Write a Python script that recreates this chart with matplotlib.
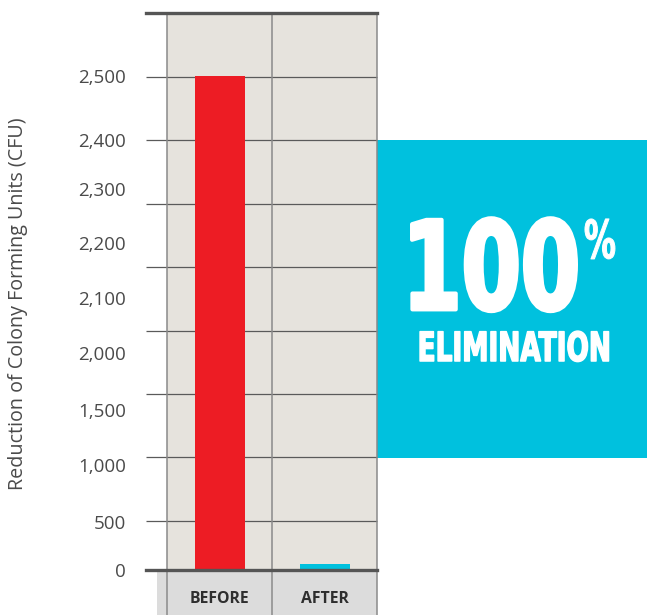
import numpy as np
import matplotlib
matplotlib.use("Agg")
import matplotlib.pyplot as plt
from matplotlib import patheffects
from matplotlib.transforms import Affine2D
from matplotlib.patches import Rectangle

# ---------------- data ----------------
categories = ["BEFORE", "AFTER"]
cfu_values = [2500, 65]
bar_colors = ["#ed1c24", "#00c1de"]
tick_values = [0, 500, 1000, 1500, 2000, 2100, 2200, 2300, 2400, 2500]
tick_labels = ["0", "500", "1,000", "1,500", "2,000", "2,100", "2,200", "2,300", "2,400", "2,500"]
y_label = "Reduction of Colony Forming Units (CFU)"
big_text = "100"
pct_text = "%"
sub_text = "ELIMINATION"

# ---------------- layout (pixels) ----------------
W, H = 647, 615
AX_L, AX_R, AX_T, AX_B = 146, 377, 13, 570
# piecewise (non-linear) axis: pixel row of each tick level, plus a top anchor
scale_levels = tick_values + [2600]
scale_rows = [570, 522, 465, 410, 353, 298, 243, 189, 140, 76, 13]
scale_heights = [AX_B - r for r in scale_rows]
grid_rows = [76.5, 140, 203.5, 267, 331, 394, 457, 521]
col_lines = [167, 272, 377]

TEXT_GREY = "#4a4a4a"
BEIGE = "#e6e3dd"
FOOT = "#dcdcdc"
CYAN = "#00c1de"


class FitInk(patheffects.AbstractPathEffect):
    """Scale text glyph ink to a target pixel width/height (condensed display type),
    optionally thickening the strokes."""
    def __init__(self, width_px, height_px, anchor="center", weight_px=0.0):
        super().__init__()
        self.w = width_px
        self.h = height_px
        self.anchor = anchor
        self.weight = weight_px

    def draw_path(self, renderer, gc, tpath, affine, rgbFace=None):
        ext = tpath.get_extents(affine)
        k = renderer.points_to_pixels(72 / 100)
        sx = (self.w - self.weight) * k / max(ext.width, 1e-9)
        sy = (self.h - self.weight) * k / max(ext.height, 1e-9)
        if self.anchor == "left":
            cx = ext.x0 + self.weight * k / 2
        elif self.anchor == "right":
            cx = ext.x1 - self.weight * k / 2
        else:
            cx = (ext.x0 + ext.x1) / 2
        cy = ext.y0 + self.weight * k / 2
        aff = affine + Affine2D().translate(-cx, -ext.y0).scale(sx, sy).translate(cx, cy)
        if self.weight > 0:
            gc0 = renderer.new_gc()
            gc0.copy_properties(gc)
            gc0.set_linewidth(self.weight * 0.72)
            gc0.set_foreground(rgbFace if rgbFace is not None else "white")
            gc0.set_joinstyle("round")
            renderer.draw_path(gc0, tpath, aff, rgbFace)
            gc0.restore()
        else:
            renderer.draw_path(gc, tpath, aff, rgbFace)


fig = plt.figure(figsize=(W / 100, H / 100), dpi=100)

# background canvas in pixel coordinates
cv = fig.add_axes([0, 0, 1, 1], zorder=0)
cv.set_xlim(0, W)
cv.set_ylim(H, 0)
cv.axis("off")
cv.add_patch(Rectangle((col_lines[0], AX_T), col_lines[-1] - col_lines[0], AX_B - AX_T,
                       facecolor=BEIGE, edgecolor="none"))
cv.add_patch(Rectangle((157, AX_B), AX_R - 157, H - AX_B, facecolor=FOOT, edgecolor="none"))
for r in grid_rows:
    cv.plot([AX_L, AX_R], [r, r], color="#5a5a5a", lw=0.9, solid_capstyle="butt")
for c in col_lines:
    cv.plot([c, c], [AX_T, H], color="#8a8a8a", lw=1.1, solid_capstyle="butt")
cv.add_patch(Rectangle((AX_R, 140), W - AX_R, 458 - 140, facecolor=CYAN, edgecolor="none"))

# big callout text (bold type, scaled to the tall condensed look of the original)
cv.text(580, 312, big_text, color="white", fontsize=60, fontweight="bold",
        family="DejaVu Sans", ha="right", va="baseline",
        path_effects=[FitInk(168, 97, "right", weight_px=4)])
cv.text(584, 259, pct_text, color="white", fontsize=22, fontweight="bold",
        family="DejaVu Sans", ha="left", va="baseline",
        path_effects=[FitInk(31, 41, "left", weight_px=1)])
cv.text(514, 362, sub_text, color="white", fontsize=18, fontweight="bold",
        family="DejaVu Sans", ha="center", va="baseline",
        path_effects=[FitInk(190, 32, "center", weight_px=1.5)])

# data axes
ax = fig.add_axes([AX_L / W, (H - AX_B) / H, (AX_R - AX_L) / W, (AX_B - AX_T) / H], zorder=1)
ax.patch.set_alpha(0)


def fwd(v):
    return np.interp(v, scale_levels, scale_heights)


def inv(h):
    return np.interp(h, scale_heights, scale_levels)


ax.set_yscale("function", functions=(fwd, inv))
x = np.arange(len(categories))
ax.bar(x, cfu_values, width=50 / 105, color=bar_colors, zorder=2)
ax.set_xlim(-0.5 - 21 / 105, 1.5)
ax.set_ylim(0, 2600)

ax.set_yticks(tick_values)
ax.set_yticklabels(tick_labels)
ax.yaxis.set_minor_locator(matplotlib.ticker.NullLocator())
ax.tick_params(axis="y", length=0, pad=14.4, labelsize=13.5, labelcolor=TEXT_GREY)
ax.set_xticks(x)
ax.set_xticklabels(categories, fontweight="bold")
ax.tick_params(axis="x", length=0, pad=15, labelsize=11.3, labelcolor="#2e2e2e")
for lbl in ax.get_yticklabels() + ax.get_xticklabels():
    lbl.set_family("Open Sans")

for s in ["left", "right"]:
    ax.spines[s].set_visible(False)
for s in ["top", "bottom"]:
    ax.spines[s].set_linewidth(2.4)
    ax.spines[s].set_color("#555555")
    ax.spines[s].set_zorder(3)

ax.set_ylabel(y_label, fontsize=14.2, color=TEXT_GREY, family="Open Sans")
ax.yaxis.set_label_coords((28 - AX_L) / (AX_R - AX_L), (AX_B - 304) / (AX_B - AX_T))

fig.savefig("out.png", dpi=100)
